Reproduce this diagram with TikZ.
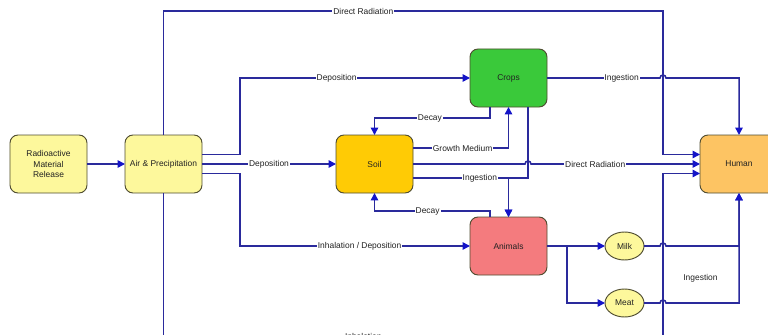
\documentclass[tikz,border=0pt]{standalone}
\usepackage{fontspec}
\setmainfont{Liberation Sans}
\usepackage{tikz}
\usetikzlibrary{
  arrows.meta,
  calc,
  positioning,
  shapes.geometric
}
\definecolor{wire}{HTML}{2A2A9C}
\definecolor{tip}{HTML}{1414C8}
\definecolor{rim}{HTML}{4F4C30}
\definecolor{ink}{HTML}{222222}
\definecolor{straw}{HTML}{FDF89C}
\definecolor{soilgold}{HTML}{FFCB05}
\definecolor{cropgreen}{HTML}{3AC93A}
\definecolor{animalred}{HTML}{F47B7E}
\definecolor{humanorange}{HTML}{FDC463}
\newcommand{\smallfont}{\fontsize{7.2}{8.6}\selectfont}
\tikzset{
  link/.style={
    -{Triangle[length=2.2mm,width=2.2mm,color=tip]},
    line width=1.3pt,
    draw=wire
  },
  flowlabel/.style={
    fill=white,
    inner sep=0.8pt,
    text=ink,
    font=\smallfont
  },
  stage/.style={
    draw=rim,
    line width=0.8pt,
    rounded corners=2.4mm,
    minimum width=23.1mm,
    minimum height=17.4mm,
    inner sep=1pt,
    outer sep=0pt,
    align=center,
    text=ink,
    font=\smallfont
  },
  product/.style={
    ellipse,
    draw=rim,
    fill=straw,
    line width=0.8pt,
    minimum width=11.7mm,
    minimum height=8.4mm,
    inner sep=0pt,
    outer sep=0pt,
    text=ink,
    font=\smallfont
  },
  jumparc/.style={
    insert path={arc[start angle=180,end angle=0,radius=0.9mm]}
  }
}

\begin{document}
\begin{tikzpicture}[x=0.3mm, y=-0.3mm]
  \useasboundingbox (0,0) rectangle (768,335);
  \clip (0,0) rectangle (768,335);

  \node[stage, fill=straw] (release) at (48.5,164) {Radioactive\\Material\\Release};
  \node[stage, fill=straw, right=11.4mm of release] (air) {Air \& Precipitation};
  \node[stage, fill=soilgold, right=40.2mm of air] (soil) {Soil};
  \node[stage, fill=cropgreen, above right=8.4mm and 17.1mm of soil] (crops) {Crops};
  \node[stage, fill=animalred, below right=7.2mm and 17.1mm of soil] (animals) {Animals};
  \node[stage, fill=humanorange, minimum width=23.4mm, right=86.1mm of soil] (human) {Human};
  \node[product, right=17.4mm of animals] (milk) {Milk};
  \node[product, below=8.7mm of milk] (meat) {Meat};
  \node[flowlabel, fill=none] (ingestnote) at (700.5,278) {Ingestion};

  \coordinate (trunk) at (663,11);
  \coordinate (floor) at (0,336);
  \coordinate (stem) at ($(crops.south)+(19.5,0)$);

  \draw[link] (release) -- (air);
  \draw[link] (air.north) |-
    node[flowlabel, pos=0.70] {Direct Radiation} (trunk)
    |- ($(human.west)+(0,-9.5)$);
  \draw[link] ($(air.east)+(0,-9.5)$) -- ++(38,0) |-
    node[flowlabel, pos=0.71] {Deposition} (crops.west);
  \draw[link] (air) -- node[flowlabel] {Deposition} (soil);
  \draw[link] ($(air.east)+(0,9.5)$) -- ++(38,0) |-
    node[flowlabel, pos=0.76] {Inhalation / Deposition} (animals.west);
  \draw[link] (air.south) -- (air.south |- floor) --
    node[flowlabel, pos=0.40] {Inhalation} (trunk |- floor)
    |- ($(human.west)+(0,9.5)$);

  \draw[link] ($(crops.south)+(-18.5,0)$) -- ++(0,11) -|
    node[flowlabel, pos=0.26] {Decay} (soil.north);
  \draw[link] ($(soil.east)+(0,-16)$) -|
    node[flowlabel, pos=0.26] {Growth Medium} (crops.south);
  \draw[link] (soil.east) -- ($(stem |- soil.east)+(-3,0)$) [jumparc] --
    node[flowlabel, pos=0.38] {Direct Radiation} (human.west);
  \draw[link] (stem) -- ++(0,71) -| (animals.north);
  \draw[link] ($(soil.east)+(0,14)$) -|
    node[flowlabel, pos=0.35] {Ingestion} (animals.north);
  \draw[link] ($(animals.north)+(-18.5,0)$) -- ++(0,-6) -|
    node[flowlabel, pos=0.27] {Decay} (soil.south);

  \draw[link] (crops.east) --
    node[flowlabel, pos=0.66] {Ingestion} ($(trunk |- crops.east)+(-3,0)$)
    [jumparc] -| (human.north);
  \draw[link] (animals) -- (milk);
  \draw[link] ($(animals.east)+(20,0)$) |- (meat);
  \draw[link] (milk) -- ($(trunk |- milk.east)+(-3,0)$) [jumparc] -| (human.south);
  \draw[link] (meat) -- ($(trunk |- meat.east)+(-3,0)$) [jumparc] -| (human.south);
\end{tikzpicture}
\end{document}
